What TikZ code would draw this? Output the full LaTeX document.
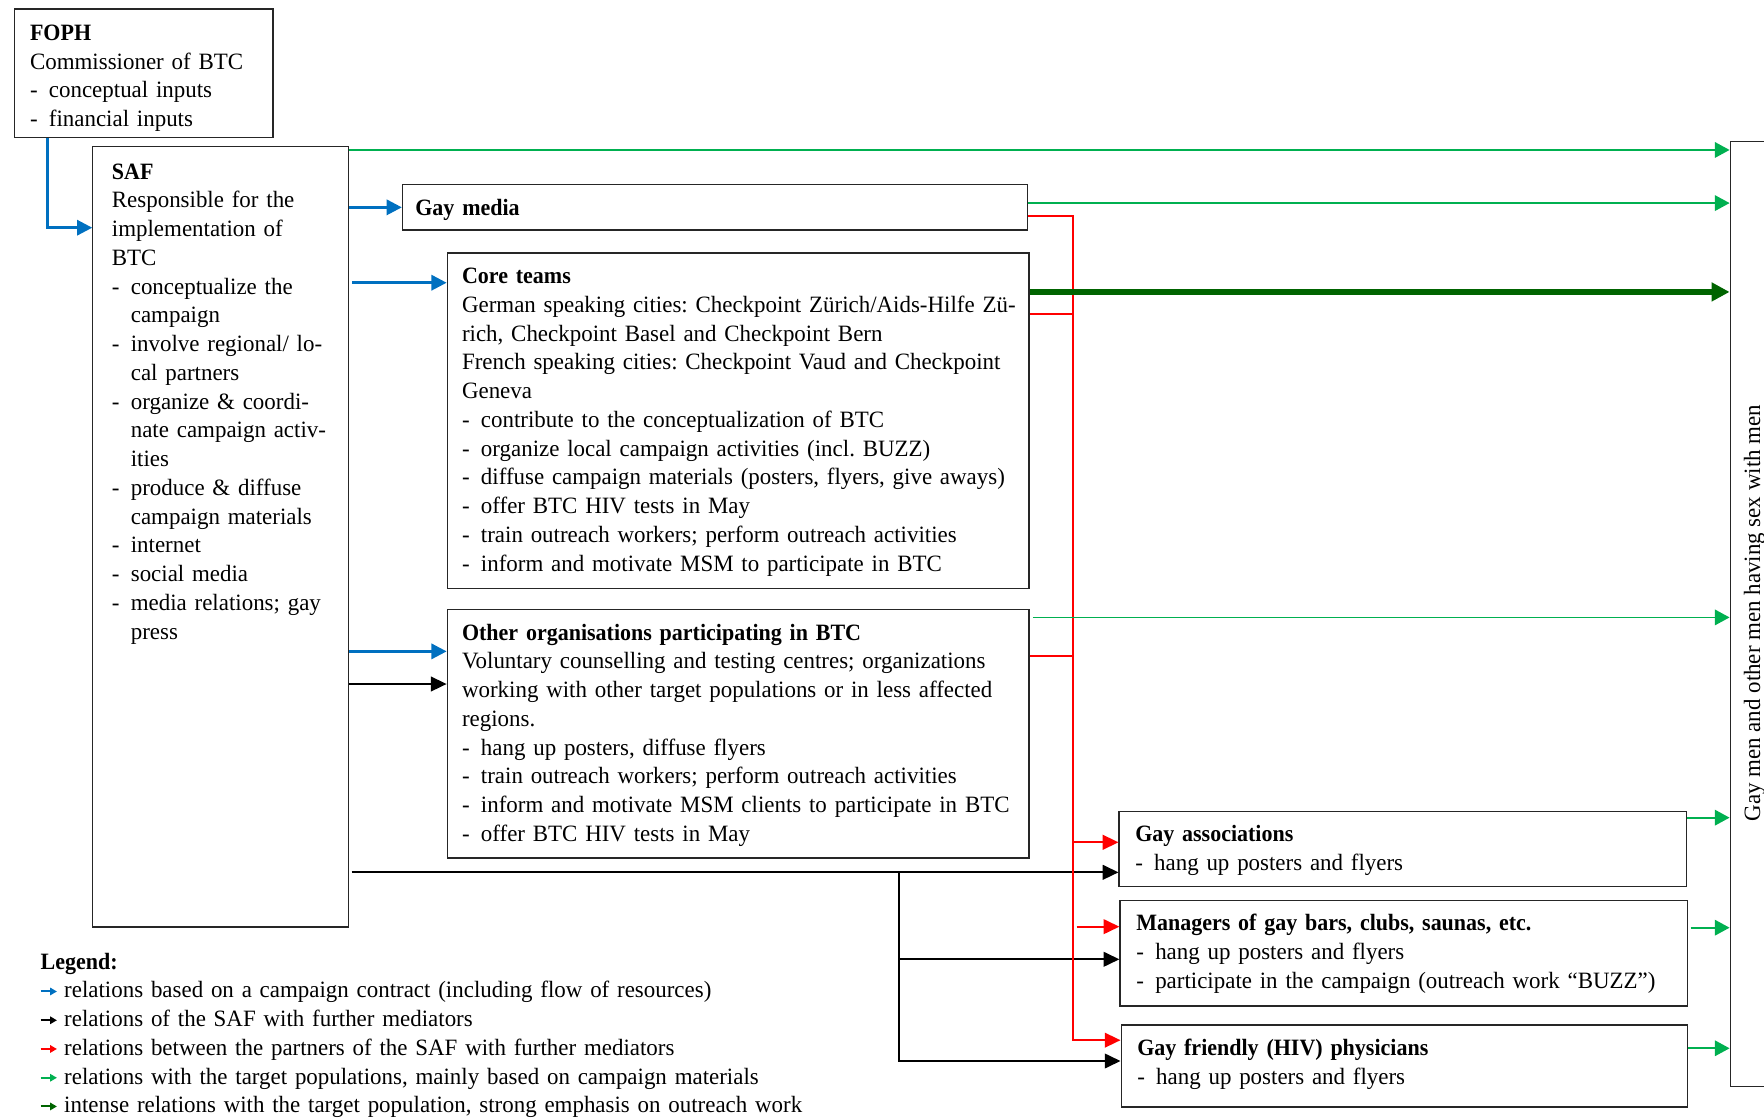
\documentclass[tikz,border=0pt]{standalone}
\usepackage{fontspec}
\setmainfont{Liberation Serif}[FakeStretch=0.98]
\newfontfamily\hdfont{Liberation Serif}[FakeStretch=0.94]
\usetikzlibrary{arrows.meta,calc}
\definecolor{cblue}{RGB}{0,112,192}
\definecolor{cgreen}{RGB}{0,176,80}
\definecolor{cdgreen}{RGB}{0,100,0}
\definecolor{cred}{RGB}{255,0,0}
\newcommand{\bodyfont}{\fontsize{20.8}{25.55}\selectfont\frenchspacing}
\newcommand{\hd}[1]{{\hdfont\bfseries #1}}
\newcommand{\itm}[1]{\makebox[16.8pt][l]{-}#1}
\newcommand{\cnt}[1]{\hspace*{16.8pt}#1}
\begin{document}
\begin{tikzpicture}[x=1pt,y=1pt,
  box/.style={draw=black!85, line width=1.1pt, anchor=north west, inner sep=0pt},
  txt/.style={anchor=north west, inner sep=0pt, align=left, text width=#1, yshift=17.885pt, font=\bodyfont},
  bluearr/.style={draw=cblue, line width=2.4pt, -{Triangle[length=13.5pt,width=13.5pt]}},
  grnarr/.style={draw=cgreen, line width=1.6pt, -{Triangle[length=13pt,width=13.7pt]}},
  dgrnarr/.style={draw=cdgreen, line width=5.6pt, -{Triangle[length=16pt,width=16pt]}},
  redarr/.style={draw=cred, line width=1.8pt, -{Triangle[length=14pt,width=13pt]}},
  redline/.style={draw=cred, line width=1.8pt},
  blkarr/.style={draw=black, line width=1.8pt, -{Triangle[length=14pt,width=13pt]}},
  legarr/.style={line width=1.8pt, -{Triangle[length=6pt,width=6.5pt]}}
]
\useasboundingbox (0,0) rectangle (1568,-994);
\clip (0,0) rectangle (1568,-994);

% ---------- boxes ----------
\node[box, minimum width=230.2pt, minimum height=114pt] (foph) at (12,-7.5) {};
\node[box, minimum width=227.5pt, minimum height=693.7pt] (saf) at (82,-129.8) {};
\node[box, minimum width=555.6pt, minimum height=40.3pt] (gm) at (357.2,-163.6) {};
\node[box, minimum width=517pt, minimum height=298.5pt] (core) at (397,-224.3) {};
\node[box, minimum width=517pt, minimum height=221pt] (oth) at (397,-541) {};
\node[box, minimum width=504.2pt, minimum height=67pt] (ga) at (994.2,-720.6) {};
\node[box, minimum width=504.2pt, minimum height=93.6pt] (mgr) at (995,-800) {};
\node[box, minimum width=503.7pt, minimum height=72.9pt] (phy) at (996,-910.5) {};
\node[box, minimum width=70pt, minimum height=840pt] (tgt) at (1537.4,-125) {};

% ---------- texts ----------
\node[txt=220pt] (foph-t) at (26.5,-35.6) {\strut\hd{FOPH}\\
Commissioner of BTC\\
\itm{conceptual inputs}\\
\itm{financial inputs}};

\node[txt=220pt] (saf-t) at (99.3,-159.1) {\strut\hd{SAF}\\
Responsible for the\\
implementation of\\
BTC\\
\itm{conceptualize the}\\
\cnt{campaign}\\
\itm{involve regional/ lo-}\\
\cnt{cal partners}\\
\itm{organize \& coordi-}\\
\cnt{nate campaign activ-}\\
\cnt{ities}\\
\itm{produce \& diffuse}\\
\cnt{campaign materials}\\
\itm{internet}\\
\itm{social media}\\
\itm{media relations; gay}\\
\cnt{press}};

\node[txt=300pt] (gm-t) at (369,-191.1) {\strut\hd{Gay media}};

\node[txt=520pt] (core-t) at (410.5,-251.9) {\strut\hd{Core teams}\\
German speaking cities: Checkpoint Zürich/Aids-Hilfe Zü-\\
rich, Checkpoint Basel and Checkpoint Bern\\
French speaking cities: Checkpoint Vaud and Checkpoint\\
Geneva\\
\itm{contribute to the conceptualization of BTC}\\
\itm{organize local campaign activities (incl. BUZZ)}\\
\itm{diffuse campaign materials (posters, flyers, give aways)}\\
\itm{offer BTC HIV tests in May}\\
\itm{train outreach workers; perform outreach activities}\\
\itm{inform and motivate MSM to participate in BTC}};

\node[txt=520pt] (oth-t) at (410.5,-568.8) {\strut\hd{Other organisations participating in BTC}\\
Voluntary counselling and testing centres; organizations\\
working with other target populations or in less affected\\
regions.\\
\itm{hang up posters, diffuse flyers}\\
\itm{train outreach workers; perform outreach activities}\\
\itm{inform and motivate MSM clients to participate in BTC}\\
\itm{offer BTC HIV tests in May}};

\node[txt=490pt] (ga-t) at (1008.9,-747.6) {\strut\hd{Gay associations}\\
\itm{hang up posters and flyers}};

\node[txt=490pt] (mgr-t) at (1009.9,-827.3) {\strut\hd{Managers of gay bars, clubs, saunas, etc.}\\
\itm{hang up posters and flyers}\\
\itm{participate in the campaign (outreach work “BUZZ”)}};

\node[txt=490pt] (phy-t) at (1010.7,-937.8) {\strut\hd{Gay friendly (HIV) physicians}\\
\itm{hang up posters and flyers}};

\node[rotate=90, anchor=base, inner sep=0pt, font=\bodyfont] (tgt-t) at (1564.5,-545) {Gay men and other men having sex with men};

\node[txt=800pt] (leg-t) at (36,-861.3) {\strut\hd{Legend:}\\
\hspace*{20.9pt}relations based on a campaign contract (including flow of resources)\\
\hspace*{20.9pt}relations of the SAF with further mediators\\
\hspace*{20.9pt}relations between the partners of the SAF with further mediators\\
\hspace*{20.9pt}relations with the target populations, mainly based on campaign materials\\
\hspace*{20.9pt}intense relations with the target population, strong emphasis on outreach work};

% ---------- connectors ----------
\coordinate (trunk) at (954,-192);
\coordinate (bj) at (799,-775.4);

% FOPH -> SAF
\draw[bluearr] (42.5,0 |- foph.south) |- (saf.west |- 0,-202.4);
% SAF -> partners (blue)
\draw[bluearr] (saf.east |- gm.west) -- (gm.west);
\draw[bluearr] ($(saf.east |- 0,-251.3)+(2.5,0)$) -- (core.west |- 0,-251.3);
\draw[bluearr] (saf.east |- 0,-579) -- (oth.west |- 0,-579);
% SAF -> further mediators (black)
\draw[blkarr] (saf.east |- 0,-608) -- (oth.west |- 0,-608);
\draw[blkarr] ($(saf.east |- bj)+(2,0)$) -- (ga.west |- bj);
\draw[blkarr] (bj) |- (phy.west |- 0,-943.1);
\draw[blkarr] (bj |- 0,-852.7) -- (mgr.west |- 0,-852.7);

% partners -> further mediators (red)
\draw[redarr] (gm.east |- trunk) -- (trunk) -- (trunk |- 0,-924.6) -- (phy.west |- 0,-924.6);
\draw[redline] (core.east |- 0,-278.7) -- (trunk |- 0,-278.7);
\draw[redline] (oth.east |- 0,-582.8) -- (trunk |- 0,-582.8);
\draw[redarr] (trunk |- 0,-748.7) -- (ga.west |- 0,-748.7);
\draw[redarr] ($(trunk |- 0,-823.7)+(3,0)$) -- (mgr.west |- 0,-823.7);

% relations with target population (green)
\draw[grnarr] (saf.east |- 0,-133.3) -- (tgt.west |- 0,-133.3);
\draw[grnarr] (gm.east |- 0,-180.5) -- (tgt.west |- 0,-180.5);
\draw[dgrnarr] (core.east |- 0,-259.5) -- (tgt.west |- 0,-259.5);
\draw[grnarr] ($(oth.east |- 0,-548.8)+(3,0)$) -- (tgt.west |- 0,-548.8);
\draw[grnarr] (ga.east |- 0,-726.8) -- (tgt.west |- 0,-726.8);
\draw[grnarr] ($(mgr.east |- 0,-824.6)+(2.5,0)$) -- (tgt.west |- 0,-824.6);
\draw[grnarr] (phy.east |- 0,-931.8) -- (tgt.west |- 0,-931.8);

% legend arrows
\draw[legarr, cblue] (36,-881.3) -- (50.6,-881.3);
\draw[legarr, black] (36,-906.9) -- (50.6,-906.9);
\draw[legarr, cred] (36,-932.4) -- (50.6,-932.4);
\draw[legarr, cgreen] (36,-958) -- (50.6,-958);
\draw[legarr, cdgreen] (36,-983.5) -- (50.6,-983.5);
\end{tikzpicture}
\end{document}
